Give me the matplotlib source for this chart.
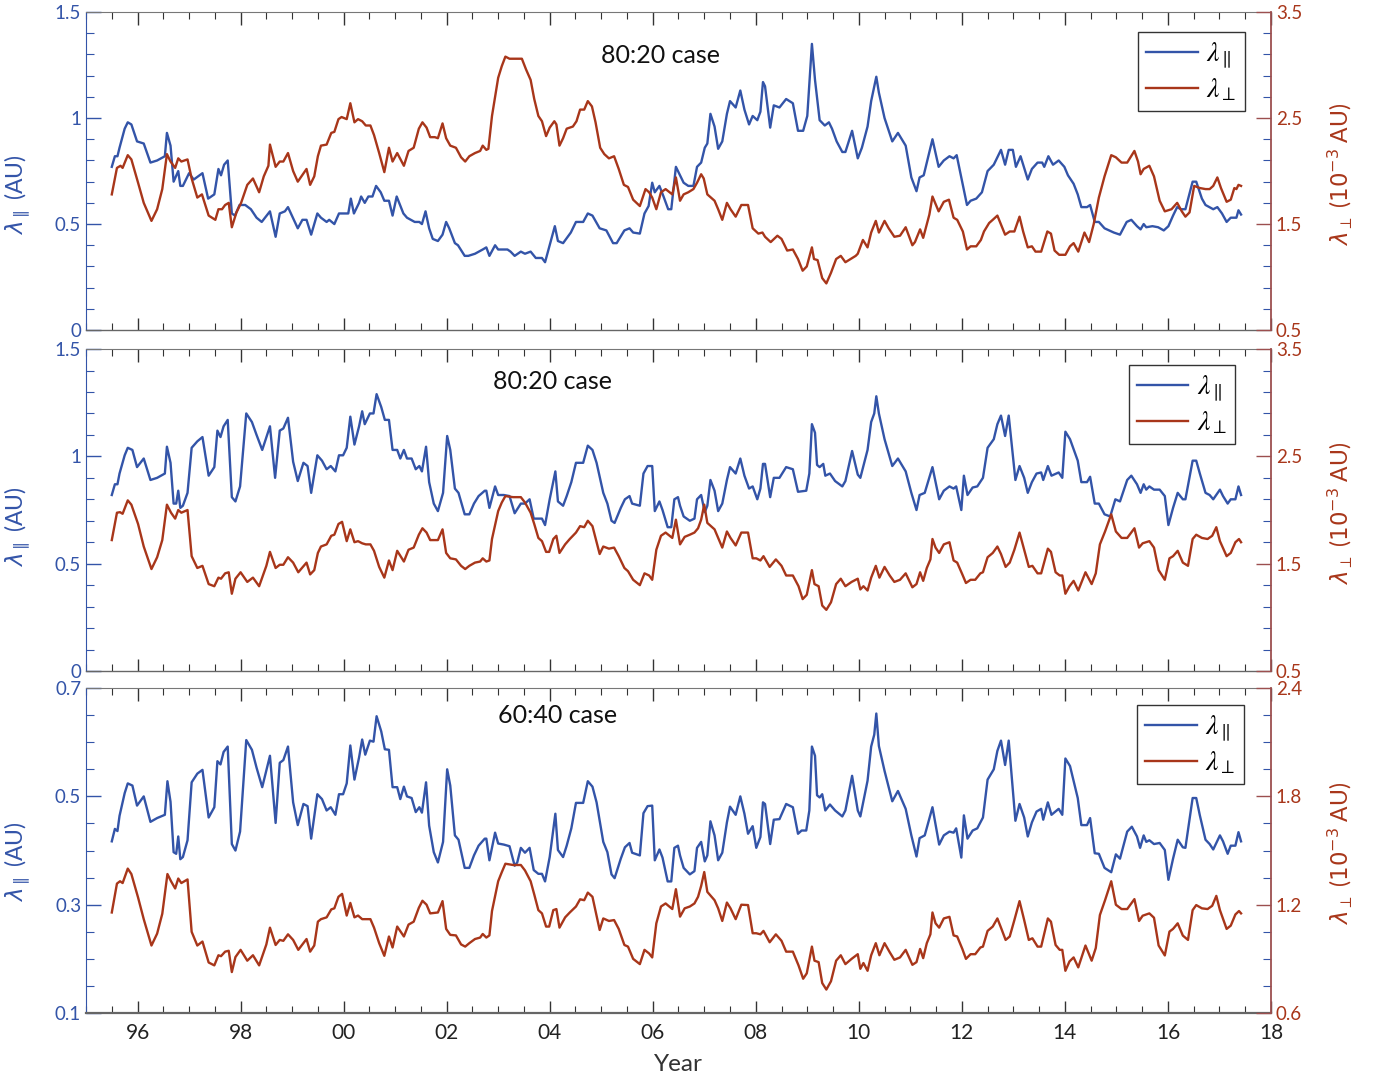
import numpy as np
import matplotlib.pyplot as plt
from matplotlib.ticker import FixedLocator
from matplotlib.font_manager import FontProperties

plt.rcParams['font.family'] = ['Lato', 'DejaVu Sans']

BLUE = '#3354a8'
RED = '#a8361a'
RED_SPINE = '#9c4f4f'
GREY = '#333333'

# (year, lambda_par [AU]) and (year, lambda_perp [1e-3 AU]) for each case
P1_PAR = [
    (1995.50, 0.77), (1995.56, 0.82), (1995.61, 0.82), (1995.65, 0.86), (1995.75, 0.95), (1995.81, 0.98),
    (1995.88, 0.97), (1995.99, 0.89), (1996.12, 0.88), (1996.25, 0.79), (1996.38, 0.80), (1996.53, 0.82),
    (1996.57, 0.93), (1996.64, 0.87), (1996.70, 0.70), (1996.79, 0.75), (1996.83, 0.68), (1996.88, 0.68),
    (1997.00, 0.74), (1997.09, 0.71), (1997.26, 0.74), (1997.37, 0.62), (1997.49, 0.64), (1997.57, 0.76),
    (1997.62, 0.73), (1997.68, 0.78), (1997.75, 0.80), (1997.83, 0.55), (1997.89, 0.54), (1997.98, 0.59),
    (1998.09, 0.59), (1998.20, 0.57), (1998.31, 0.53), (1998.41, 0.51), (1998.57, 0.56), (1998.68, 0.44),
    (1998.76, 0.55), (1998.86, 0.56), (1998.92, 0.58), (1999.11, 0.48), (1999.20, 0.52), (1999.28, 0.52),
    (1999.37, 0.45), (1999.49, 0.55), (1999.56, 0.53), (1999.67, 0.51), (1999.72, 0.52), (1999.82, 0.50),
    (1999.91, 0.55), (2000.02, 0.55), (2000.09, 0.55), (2000.14, 0.62), (2000.20, 0.55), (2000.30, 0.60),
    (2000.34, 0.63), (2000.41, 0.60), (2000.48, 0.63), (2000.56, 0.63), (2000.63, 0.68), (2000.72, 0.65),
    (2000.79, 0.61), (2000.88, 0.61), (2000.95, 0.54), (2001.03, 0.63), (2001.16, 0.55), (2001.23, 0.53),
    (2001.38, 0.51), (2001.47, 0.51), (2001.52, 0.50), (2001.59, 0.56), (2001.66, 0.48), (2001.73, 0.43),
    (2001.83, 0.42), (2001.92, 0.45), (2001.99, 0.51), (2002.05, 0.48), (2002.16, 0.41), (2002.22, 0.40),
    (2002.35, 0.35), (2002.42, 0.35), (2002.55, 0.36), (2002.70, 0.38), (2002.77, 0.39), (2002.83, 0.35),
    (2002.94, 0.40), (2003.00, 0.38), (2003.18, 0.38), (2003.24, 0.37), (2003.32, 0.35), (2003.44, 0.37),
    (2003.52, 0.36), (2003.63, 0.37), (2003.73, 0.34), (2003.85, 0.34), (2003.91, 0.32), (2004.01, 0.41),
    (2004.10, 0.49), (2004.16, 0.42), (2004.26, 0.41), (2004.41, 0.46), (2004.51, 0.51), (2004.65, 0.51),
    (2004.74, 0.55), (2004.83, 0.54), (2004.97, 0.48), (2005.10, 0.47), (2005.23, 0.41), (2005.30, 0.41),
    (2005.45, 0.47), (2005.55, 0.48), (2005.62, 0.46), (2005.75, 0.455), (2005.84, 0.55), (2005.92, 0.585),
    (2005.99, 0.695), (2006.04, 0.65), (2006.13, 0.68), (2006.21, 0.63), (2006.30, 0.57), (2006.36, 0.57),
    (2006.45, 0.77), (2006.53, 0.73), (2006.60, 0.695), (2006.69, 0.68), (2006.79, 0.68), (2006.86, 0.77),
    (2006.94, 0.79), (2007.01, 0.86), (2007.06, 0.88), (2007.12, 1.02), (2007.20, 0.96), (2007.27, 0.855),
    (2007.35, 0.89), (2007.44, 1.02), (2007.50, 1.08), (2007.61, 1.05), (2007.70, 1.13), (2007.78, 1.04),
    (2007.87, 0.97), (2007.94, 1.01), (2008.03, 0.99), (2008.09, 1.03), (2008.14, 1.17), (2008.18, 1.15),
    (2008.28, 0.955), (2008.35, 1.06), (2008.46, 1.05), (2008.59, 1.09), (2008.72, 1.07), (2008.82, 0.94),
    (2008.92, 0.94), (2009.00, 1.01), (2009.09, 1.35), (2009.15, 1.18), (2009.24, 0.99), (2009.34, 0.965),
    (2009.42, 0.98), (2009.48, 0.95), (2009.57, 0.89), (2009.68, 0.84), (2009.74, 0.84), (2009.87, 0.94),
    (2009.98, 0.81), (2010.06, 0.86), (2010.17, 0.96), (2010.24, 1.08), (2010.34, 1.195), (2010.39, 1.12),
    (2010.50, 1.00), (2010.65, 0.89), (2010.76, 0.93), (2010.91, 0.87), (2011.02, 0.72), (2011.12, 0.655),
    (2011.18, 0.72), (2011.26, 0.73), (2011.43, 0.90), (2011.55, 0.77), (2011.65, 0.80), (2011.76, 0.82),
    (2011.84, 0.81), (2011.90, 0.825), (2011.99, 0.72), (2012.10, 0.59), (2012.17, 0.61), (2012.28, 0.62),
    (2012.39, 0.65), (2012.50, 0.75), (2012.62, 0.78), (2012.76, 0.85), (2012.84, 0.78), (2012.91, 0.85),
    (2012.99, 0.85), (2013.05, 0.77), (2013.14, 0.82), (2013.28, 0.71), (2013.36, 0.76), (2013.47, 0.79),
    (2013.56, 0.79), (2013.60, 0.77), (2013.68, 0.82), (2013.77, 0.78), (2013.88, 0.80), (2013.99, 0.77),
    (2014.06, 0.73), (2014.17, 0.69), (2014.25, 0.64), (2014.32, 0.58), (2014.43, 0.58), (2014.49, 0.59),
    (2014.58, 0.51), (2014.66, 0.51), (2014.77, 0.48), (2014.95, 0.46), (2015.07, 0.45), (2015.20, 0.51),
    (2015.29, 0.52), (2015.40, 0.49), (2015.47, 0.475), (2015.53, 0.50), (2015.58, 0.485), (2015.70, 0.49),
    (2015.81, 0.485), (2015.92, 0.47), (2016.01, 0.49), (2016.10, 0.54), (2016.18, 0.58), (2016.25, 0.57),
    (2016.34, 0.57), (2016.48, 0.70), (2016.55, 0.70), (2016.66, 0.62), (2016.73, 0.59), (2016.88, 0.57),
    (2016.96, 0.58), (2017.05, 0.55), (2017.14, 0.51), (2017.22, 0.53), (2017.33, 0.53), (2017.37, 0.565),
    (2017.42, 0.545),
]

P1_PERP = [
    (1995.50, 1.78), (1995.60, 2.03), (1995.67, 2.05), (1995.71, 2.03), (1995.81, 2.15), (1995.88, 2.11),
    (1996.01, 1.89), (1996.12, 1.70), (1996.27, 1.53), (1996.38, 1.64), (1996.48, 1.83), (1996.57, 2.16),
    (1996.64, 2.09), (1996.73, 2.03), (1996.79, 2.12), (1996.85, 2.09), (1996.97, 2.11), (1997.05, 1.93),
    (1997.16, 1.75), (1997.25, 1.78), (1997.38, 1.58), (1997.51, 1.54), (1997.57, 1.64), (1997.64, 1.64),
    (1997.70, 1.68), (1997.77, 1.70), (1997.83, 1.47), (1997.92, 1.61), (1998.01, 1.70), (1998.13, 1.87),
    (1998.24, 1.93), (1998.36, 1.80), (1998.45, 1.95), (1998.54, 2.05), (1998.57, 2.25), (1998.68, 2.04),
    (1998.76, 2.09), (1998.83, 2.09), (1998.92, 2.17), (1999.02, 2.00), (1999.11, 1.90), (1999.28, 2.02),
    (1999.35, 1.87), (1999.43, 1.95), (1999.50, 2.14), (1999.56, 2.24), (1999.67, 2.25), (1999.76, 2.36),
    (1999.82, 2.37), (1999.90, 2.49), (1999.96, 2.51), (2000.06, 2.49), (2000.13, 2.64), (2000.21, 2.46),
    (2000.28, 2.49), (2000.36, 2.47), (2000.43, 2.43), (2000.52, 2.43), (2000.59, 2.34), (2000.69, 2.17),
    (2000.79, 1.99), (2000.88, 2.22), (2000.95, 2.09), (2001.04, 2.17), (2001.17, 2.05), (2001.26, 2.19),
    (2001.36, 2.22), (2001.46, 2.40), (2001.53, 2.46), (2001.61, 2.41), (2001.68, 2.32), (2001.77, 2.32),
    (2001.83, 2.31), (2001.92, 2.45), (2001.99, 2.31), (2002.07, 2.24), (2002.18, 2.22), (2002.28, 2.13),
    (2002.36, 2.09), (2002.44, 2.14), (2002.55, 2.17), (2002.65, 2.19), (2002.70, 2.24), (2002.77, 2.20),
    (2002.81, 2.21), (2002.88, 2.52), (2003.00, 2.88), (2003.07, 2.99), (2003.14, 3.08), (2003.22, 3.06),
    (2003.33, 3.06), (2003.46, 3.06), (2003.54, 2.96), (2003.63, 2.86), (2003.70, 2.68), (2003.78, 2.52),
    (2003.85, 2.47), (2003.93, 2.33), (2004.00, 2.41), (2004.09, 2.47), (2004.13, 2.44), (2004.19, 2.24),
    (2004.26, 2.31), (2004.33, 2.40), (2004.45, 2.42), (2004.52, 2.47), (2004.59, 2.58), (2004.67, 2.58),
    (2004.74, 2.66), (2004.82, 2.61), (2004.89, 2.46), (2004.98, 2.22), (2005.06, 2.16), (2005.15, 2.12),
    (2005.25, 2.14), (2005.34, 2.02), (2005.44, 1.87), (2005.52, 1.85), (2005.62, 1.73), (2005.75, 1.67),
    (2005.86, 1.83), (2005.93, 1.80), (2005.99, 1.75), (2006.07, 1.64), (2006.16, 1.80), (2006.25, 1.83),
    (2006.38, 1.78), (2006.45, 1.94), (2006.53, 1.72), (2006.60, 1.78), (2006.69, 1.80), (2006.79, 1.83),
    (2006.86, 1.89), (2006.94, 1.97), (2006.99, 1.93), (2007.06, 1.78), (2007.20, 1.72), (2007.27, 1.64),
    (2007.35, 1.54), (2007.44, 1.70), (2007.51, 1.64), (2007.61, 1.57), (2007.72, 1.68), (2007.85, 1.68),
    (2007.94, 1.46), (2008.05, 1.41), (2008.13, 1.42), (2008.18, 1.38), (2008.29, 1.33), (2008.42, 1.39),
    (2008.50, 1.36), (2008.61, 1.25), (2008.72, 1.26), (2008.82, 1.17), (2008.91, 1.06), (2008.99, 1.10),
    (2009.09, 1.28), (2009.13, 1.17), (2009.20, 1.16), (2009.29, 0.99), (2009.37, 0.94), (2009.46, 1.04),
    (2009.56, 1.17), (2009.65, 1.20), (2009.74, 1.14), (2009.94, 1.20), (2009.98, 1.22), (2010.08, 1.35),
    (2010.17, 1.28), (2010.24, 1.42), (2010.33, 1.53), (2010.39, 1.42), (2010.50, 1.53), (2010.58, 1.46),
    (2010.69, 1.38), (2010.80, 1.39), (2010.91, 1.47), (2011.04, 1.30), (2011.09, 1.33), (2011.19, 1.45),
    (2011.25, 1.37), (2011.37, 1.59), (2011.43, 1.76), (2011.55, 1.62), (2011.65, 1.71), (2011.75, 1.73),
    (2011.84, 1.56), (2011.91, 1.54), (2012.02, 1.43), (2012.10, 1.26), (2012.17, 1.29), (2012.28, 1.29),
    (2012.37, 1.35), (2012.43, 1.43), (2012.53, 1.51), (2012.60, 1.54), (2012.69, 1.58), (2012.84, 1.40),
    (2012.93, 1.43), (2013.02, 1.43), (2013.12, 1.57), (2013.19, 1.43), (2013.28, 1.28), (2013.36, 1.29),
    (2013.43, 1.24), (2013.54, 1.24), (2013.66, 1.43), (2013.73, 1.41), (2013.80, 1.25), (2013.89, 1.21),
    (2014.01, 1.21), (2014.10, 1.29), (2014.17, 1.32), (2014.26, 1.24), (2014.38, 1.42), (2014.47, 1.33),
    (2014.56, 1.50), (2014.66, 1.75), (2014.77, 1.95), (2014.90, 2.15), (2014.99, 2.13), (2015.10, 2.08),
    (2015.21, 2.08), (2015.35, 2.19), (2015.42, 2.09), (2015.47, 1.97), (2015.53, 2.02), (2015.64, 2.05),
    (2015.73, 1.95), (2015.84, 1.72), (2015.94, 1.62), (2016.07, 1.64), (2016.18, 1.70), (2016.27, 1.62),
    (2016.34, 1.57), (2016.42, 1.61), (2016.51, 1.86), (2016.62, 1.84), (2016.73, 1.83), (2016.81, 1.83),
    (2016.88, 1.86), (2016.96, 1.94), (2017.03, 1.84), (2017.14, 1.71), (2017.22, 1.73), (2017.29, 1.84),
    (2017.33, 1.83), (2017.37, 1.87), (2017.42, 1.86),
]

P2_PAR = [
    (1995.50, 0.82), (1995.56, 0.87), (1995.61, 0.87), (1995.65, 0.92), (1995.75, 1.005), (1995.81, 1.04),
    (1995.90, 1.03), (1995.99, 0.95), (1996.12, 0.99), (1996.25, 0.89), (1996.38, 0.90), (1996.53, 0.92),
    (1996.57, 1.045), (1996.64, 0.97), (1996.70, 0.78), (1996.75, 0.78), (1996.79, 0.84), (1996.83, 0.76),
    (1996.88, 0.77), (1996.97, 0.83), (1997.05, 1.04), (1997.16, 1.07), (1997.26, 1.09), (1997.38, 0.91),
    (1997.49, 0.95), (1997.55, 1.12), (1997.61, 1.09), (1997.67, 1.14), (1997.75, 1.17), (1997.83, 0.81),
    (1997.90, 0.79), (1997.99, 0.86), (1998.11, 1.20), (1998.22, 1.16), (1998.31, 1.10), (1998.42, 1.03),
    (1998.57, 1.14), (1998.67, 0.90), (1998.76, 1.12), (1998.83, 1.13), (1998.92, 1.18), (1999.02, 0.975),
    (1999.11, 0.885), (1999.22, 0.97), (1999.30, 0.955), (1999.37, 0.83), (1999.49, 1.005), (1999.58, 0.98),
    (1999.67, 0.94), (1999.75, 0.955), (1999.84, 0.93), (1999.91, 1.005), (1999.99, 1.005), (2000.06, 1.04),
    (2000.13, 1.185), (2000.21, 1.055), (2000.30, 1.14), (2000.36, 1.21), (2000.41, 1.15), (2000.51, 1.20),
    (2000.58, 1.20), (2000.64, 1.29), (2000.73, 1.23), (2000.80, 1.17), (2000.88, 1.17), (2000.95, 1.03),
    (2001.04, 1.03), (2001.10, 0.99), (2001.17, 1.03), (2001.23, 0.99), (2001.32, 0.99), (2001.40, 0.94),
    (2001.47, 0.955), (2001.52, 0.93), (2001.60, 1.045), (2001.66, 0.88), (2001.75, 0.78), (2001.83, 0.745),
    (2001.93, 0.83), (2002.01, 1.095), (2002.07, 1.03), (2002.16, 0.85), (2002.23, 0.83), (2002.35, 0.73),
    (2002.44, 0.73), (2002.53, 0.78), (2002.62, 0.815), (2002.74, 0.84), (2002.77, 0.84), (2002.83, 0.76),
    (2002.94, 0.86), (2003.00, 0.82), (2003.11, 0.82), (2003.22, 0.815), (2003.32, 0.735), (2003.44, 0.78),
    (2003.52, 0.78), (2003.61, 0.80), (2003.69, 0.71), (2003.78, 0.71), (2003.85, 0.71), (2003.91, 0.68),
    (2004.00, 0.80), (2004.11, 0.93), (2004.16, 0.79), (2004.26, 0.77), (2004.33, 0.815), (2004.42, 0.88),
    (2004.51, 0.97), (2004.65, 0.97), (2004.74, 1.05), (2004.83, 1.03), (2004.91, 0.97), (2005.04, 0.83),
    (2005.12, 0.78), (2005.20, 0.70), (2005.26, 0.69), (2005.38, 0.76), (2005.46, 0.80), (2005.55, 0.815),
    (2005.60, 0.78), (2005.75, 0.77), (2005.82, 0.92), (2005.90, 0.955), (2005.99, 0.955), (2006.04, 0.745),
    (2006.13, 0.79), (2006.19, 0.75), (2006.29, 0.67), (2006.36, 0.67), (2006.42, 0.80), (2006.49, 0.81),
    (2006.53, 0.77), (2006.60, 0.72), (2006.72, 0.70), (2006.81, 0.71), (2006.86, 0.80), (2006.94, 0.82),
    (2007.01, 0.74), (2007.06, 0.77), (2007.12, 0.89), (2007.20, 0.84), (2007.27, 0.745), (2007.35, 0.78),
    (2007.44, 0.89), (2007.50, 0.95), (2007.61, 0.92), (2007.70, 0.99), (2007.78, 0.91), (2007.87, 0.85),
    (2007.94, 0.86), (2008.03, 0.80), (2008.09, 0.85), (2008.14, 0.965), (2008.18, 0.965), (2008.28, 0.81),
    (2008.35, 0.90), (2008.46, 0.90), (2008.59, 0.95), (2008.72, 0.94), (2008.82, 0.835), (2008.98, 0.84),
    (2009.04, 0.92), (2009.09, 1.15), (2009.15, 1.11), (2009.19, 0.96), (2009.24, 0.95), (2009.31, 0.965),
    (2009.35, 0.91), (2009.44, 0.92), (2009.54, 0.885), (2009.68, 0.86), (2009.74, 0.885), (2009.87, 1.025),
    (2009.98, 0.915), (2010.03, 0.90), (2010.17, 1.03), (2010.24, 1.16), (2010.30, 1.20), (2010.34, 1.28),
    (2010.39, 1.20), (2010.50, 1.08), (2010.65, 0.955), (2010.76, 0.99), (2010.91, 0.93), (2011.02, 0.83),
    (2011.12, 0.75), (2011.18, 0.82), (2011.28, 0.83), (2011.43, 0.95), (2011.56, 0.80), (2011.65, 0.84),
    (2011.76, 0.86), (2011.84, 0.85), (2011.89, 0.86), (2011.99, 0.75), (2012.04, 0.91), (2012.11, 0.82),
    (2012.21, 0.855), (2012.30, 0.86), (2012.41, 0.90), (2012.50, 1.04), (2012.62, 1.08), (2012.69, 1.15),
    (2012.76, 1.19), (2012.84, 1.095), (2012.91, 1.19), (2013.04, 0.89), (2013.12, 0.955), (2013.21, 0.90),
    (2013.28, 0.83), (2013.36, 0.88), (2013.45, 0.92), (2013.54, 0.925), (2013.58, 0.89), (2013.67, 0.955),
    (2013.74, 0.91), (2013.88, 0.925), (2013.95, 0.90), (2014.01, 1.115), (2014.10, 1.08), (2014.25, 0.98),
    (2014.32, 0.88), (2014.43, 0.88), (2014.49, 0.905), (2014.58, 0.78), (2014.66, 0.78), (2014.77, 0.73),
    (2014.88, 0.72), (2014.98, 0.80), (2015.07, 0.79), (2015.21, 0.89), (2015.29, 0.91), (2015.40, 0.87),
    (2015.47, 0.83), (2015.53, 0.87), (2015.58, 0.845), (2015.64, 0.86), (2015.73, 0.845), (2015.84, 0.845),
    (2015.94, 0.815), (2016.01, 0.68), (2016.10, 0.76), (2016.19, 0.83), (2016.29, 0.80), (2016.34, 0.80),
    (2016.48, 0.98), (2016.55, 0.98), (2016.62, 0.92), (2016.73, 0.83), (2016.81, 0.82), (2016.88, 0.80),
    (2017.01, 0.845), (2017.07, 0.815), (2017.16, 0.78), (2017.22, 0.80), (2017.31, 0.80), (2017.37, 0.86),
    (2017.42, 0.82),
]

P2_PERP = [
    (1995.50, 1.72), (1995.60, 1.975), (1995.66, 1.98), (1995.71, 1.965), (1995.81, 2.09), (1995.88, 2.05),
    (1996.01, 1.87), (1996.12, 1.66), (1996.27, 1.45), (1996.38, 1.56), (1996.48, 1.72), (1996.57, 2.05),
    (1996.65, 1.975), (1996.73, 1.92), (1996.79, 2.00), (1996.85, 1.975), (1996.97, 2.00), (1997.05, 1.57),
    (1997.16, 1.46), (1997.26, 1.48), (1997.38, 1.31), (1997.49, 1.29), (1997.57, 1.37), (1997.62, 1.36),
    (1997.70, 1.41), (1997.77, 1.42), (1997.83, 1.22), (1997.90, 1.36), (1998.00, 1.42), (1998.13, 1.33),
    (1998.24, 1.37), (1998.36, 1.29), (1998.50, 1.48), (1998.57, 1.61), (1998.68, 1.46), (1998.76, 1.49),
    (1998.83, 1.49), (1998.92, 1.56), (1999.02, 1.51), (1999.12, 1.42), (1999.28, 1.51), (1999.35, 1.40),
    (1999.43, 1.44), (1999.50, 1.60), (1999.56, 1.66), (1999.67, 1.68), (1999.76, 1.76), (1999.82, 1.77),
    (1999.90, 1.87), (1999.97, 1.89), (2000.06, 1.71), (2000.13, 1.82), (2000.21, 1.70), (2000.28, 1.71),
    (2000.36, 1.69), (2000.43, 1.68), (2000.52, 1.68), (2000.59, 1.62), (2000.69, 1.47), (2000.79, 1.37),
    (2000.88, 1.53), (2000.95, 1.44), (2001.04, 1.62), (2001.17, 1.52), (2001.26, 1.63), (2001.36, 1.65),
    (2001.46, 1.77), (2001.53, 1.83), (2001.61, 1.79), (2001.68, 1.72), (2001.83, 1.72), (2001.92, 1.82),
    (2001.99, 1.60), (2002.07, 1.55), (2002.18, 1.54), (2002.28, 1.48), (2002.36, 1.45), (2002.44, 1.48),
    (2002.55, 1.51), (2002.65, 1.52), (2002.70, 1.55), (2002.77, 1.52), (2002.83, 1.53), (2002.88, 1.73),
    (2003.00, 1.99), (2003.07, 2.07), (2003.14, 2.13), (2003.29, 2.12), (2003.44, 2.12), (2003.52, 2.07),
    (2003.63, 1.975), (2003.70, 1.87), (2003.78, 1.74), (2003.85, 1.71), (2003.93, 1.61), (2003.99, 1.61),
    (2004.07, 1.73), (2004.13, 1.76), (2004.19, 1.60), (2004.30, 1.68), (2004.39, 1.73), (2004.51, 1.79),
    (2004.59, 1.85), (2004.67, 1.84), (2004.74, 1.90), (2004.83, 1.85), (2004.97, 1.59), (2005.04, 1.66),
    (2005.15, 1.64), (2005.25, 1.65), (2005.34, 1.57), (2005.45, 1.46), (2005.52, 1.43), (2005.62, 1.35),
    (2005.75, 1.30), (2005.84, 1.41), (2005.93, 1.39), (2005.99, 1.35), (2006.07, 1.63), (2006.16, 1.76),
    (2006.25, 1.79), (2006.38, 1.74), (2006.45, 1.91), (2006.53, 1.68), (2006.62, 1.75), (2006.72, 1.77),
    (2006.81, 1.79), (2006.88, 1.83), (2006.94, 1.91), (2007.00, 2.05), (2007.06, 1.88), (2007.20, 1.82),
    (2007.27, 1.74), (2007.35, 1.65), (2007.44, 1.80), (2007.51, 1.74), (2007.61, 1.67), (2007.72, 1.79),
    (2007.85, 1.79), (2007.94, 1.55), (2008.01, 1.55), (2008.09, 1.53), (2008.15, 1.57), (2008.27, 1.47),
    (2008.39, 1.54), (2008.50, 1.48), (2008.59, 1.39), (2008.72, 1.39), (2008.83, 1.29), (2008.91, 1.17),
    (2008.99, 1.21), (2009.09, 1.44), (2009.14, 1.31), (2009.22, 1.29), (2009.29, 1.11), (2009.37, 1.07),
    (2009.46, 1.14), (2009.56, 1.31), (2009.65, 1.36), (2009.74, 1.29), (2009.86, 1.33), (2009.98, 1.36),
    (2010.03, 1.26), (2010.09, 1.29), (2010.17, 1.25), (2010.24, 1.37), (2010.33, 1.48), (2010.40, 1.37),
    (2010.50, 1.47), (2010.60, 1.39), (2010.69, 1.33), (2010.80, 1.35), (2010.91, 1.41), (2011.04, 1.28),
    (2011.12, 1.31), (2011.19, 1.42), (2011.25, 1.34), (2011.32, 1.46), (2011.39, 1.54), (2011.43, 1.73),
    (2011.49, 1.65), (2011.56, 1.60), (2011.65, 1.68), (2011.76, 1.70), (2011.84, 1.53), (2011.91, 1.51),
    (2012.01, 1.40), (2012.08, 1.32), (2012.17, 1.35), (2012.26, 1.35), (2012.36, 1.41), (2012.41, 1.42),
    (2012.50, 1.56), (2012.60, 1.60), (2012.69, 1.66), (2012.76, 1.59), (2012.85, 1.47), (2012.93, 1.51),
    (2013.02, 1.63), (2013.12, 1.79), (2013.21, 1.63), (2013.30, 1.47), (2013.37, 1.48), (2013.47, 1.41),
    (2013.54, 1.41), (2013.67, 1.64), (2013.73, 1.61), (2013.82, 1.42), (2013.90, 1.39), (2013.95, 1.39),
    (2014.01, 1.22), (2014.09, 1.29), (2014.17, 1.34), (2014.26, 1.25), (2014.40, 1.42), (2014.52, 1.31),
    (2014.60, 1.41), (2014.68, 1.68), (2014.78, 1.80), (2014.90, 1.96), (2014.99, 1.80), (2015.10, 1.74),
    (2015.21, 1.74), (2015.35, 1.83), (2015.44, 1.65), (2015.51, 1.69), (2015.64, 1.71), (2015.73, 1.65),
    (2015.82, 1.44), (2015.94, 1.35), (2016.03, 1.55), (2016.10, 1.57), (2016.19, 1.62), (2016.29, 1.51),
    (2016.39, 1.48), (2016.48, 1.73), (2016.55, 1.77), (2016.66, 1.74), (2016.77, 1.73), (2016.86, 1.76),
    (2016.94, 1.84), (2017.01, 1.71), (2017.14, 1.57), (2017.22, 1.60), (2017.31, 1.70), (2017.38, 1.73),
    (2017.42, 1.70),
]

P3_PAR = [
    (1995.50, 0.417), (1995.56, 0.44), (1995.61, 0.436), (1995.65, 0.464), (1995.75, 0.506), (1995.81, 0.524),
    (1995.90, 0.52), (1995.99, 0.483), (1996.12, 0.50), (1996.25, 0.453), (1996.38, 0.46), (1996.53, 0.466),
    (1996.58, 0.528), (1996.64, 0.49), (1996.70, 0.397), (1996.75, 0.394), (1996.79, 0.426), (1996.83, 0.384),
    (1996.88, 0.388), (1996.97, 0.419), (1997.05, 0.526), (1997.16, 0.542), (1997.26, 0.549), (1997.38, 0.461),
    (1997.49, 0.48), (1997.55, 0.565), (1997.61, 0.559), (1997.67, 0.582), (1997.75, 0.592), (1997.83, 0.412),
    (1997.90, 0.40), (1997.99, 0.435), (1998.11, 0.604), (1998.22, 0.586), (1998.31, 0.553), (1998.42, 0.517),
    (1998.57, 0.575), (1998.68, 0.451), (1998.76, 0.562), (1998.83, 0.567), (1998.92, 0.592), (1999.02, 0.489),
    (1999.11, 0.447), (1999.22, 0.486), (1999.30, 0.482), (1999.37, 0.422), (1999.49, 0.504), (1999.58, 0.495),
    (1999.67, 0.474), (1999.75, 0.48), (1999.84, 0.466), (1999.91, 0.504), (1999.99, 0.504), (2000.06, 0.524),
    (2000.13, 0.594), (2000.21, 0.531), (2000.30, 0.572), (2000.36, 0.605), (2000.42, 0.577), (2000.51, 0.603),
    (2000.58, 0.601), (2000.64, 0.648), (2000.73, 0.62), (2000.80, 0.587), (2000.88, 0.586), (2000.95, 0.517),
    (2001.04, 0.517), (2001.10, 0.495), (2001.17, 0.518), (2001.23, 0.50), (2001.32, 0.497), (2001.40, 0.471),
    (2001.47, 0.48), (2001.52, 0.47), (2001.60, 0.526), (2001.66, 0.446), (2001.75, 0.397), (2001.83, 0.378),
    (2001.93, 0.416), (2002.01, 0.55), (2002.07, 0.52), (2002.16, 0.428), (2002.23, 0.42), (2002.35, 0.368),
    (2002.44, 0.368), (2002.53, 0.391), (2002.62, 0.409), (2002.74, 0.422), (2002.77, 0.422), (2002.83, 0.382),
    (2002.94, 0.433), (2003.00, 0.413), (2003.11, 0.411), (2003.22, 0.408), (2003.32, 0.372), (2003.37, 0.378),
    (2003.44, 0.405), (2003.52, 0.396), (2003.61, 0.405), (2003.69, 0.364), (2003.78, 0.357), (2003.85, 0.357),
    (2003.91, 0.343), (2004.00, 0.388), (2004.11, 0.468), (2004.16, 0.401), (2004.26, 0.388), (2004.33, 0.409),
    (2004.42, 0.441), (2004.51, 0.488), (2004.65, 0.488), (2004.74, 0.528), (2004.83, 0.518), (2004.91, 0.489),
    (2005.04, 0.416), (2005.12, 0.397), (2005.20, 0.356), (2005.26, 0.349), (2005.38, 0.385), (2005.46, 0.406),
    (2005.55, 0.414), (2005.60, 0.396), (2005.75, 0.391), (2005.82, 0.469), (2005.90, 0.482), (2005.99, 0.483),
    (2006.04, 0.382), (2006.13, 0.402), (2006.19, 0.387), (2006.29, 0.343), (2006.36, 0.343), (2006.42, 0.405),
    (2006.49, 0.409), (2006.53, 0.391), (2006.60, 0.368), (2006.72, 0.356), (2006.81, 0.362), (2006.86, 0.405),
    (2006.94, 0.416), (2007.01, 0.38), (2007.06, 0.391), (2007.12, 0.454), (2007.20, 0.428), (2007.27, 0.382),
    (2007.35, 0.396), (2007.44, 0.452), (2007.50, 0.481), (2007.61, 0.466), (2007.70, 0.50), (2007.78, 0.468),
    (2007.85, 0.431), (2007.94, 0.445), (2008.01, 0.405), (2008.09, 0.425), (2008.14, 0.489), (2008.18, 0.486),
    (2008.28, 0.412), (2008.35, 0.457), (2008.46, 0.458), (2008.59, 0.486), (2008.72, 0.48), (2008.82, 0.431),
    (2008.89, 0.437), (2008.98, 0.437), (2009.04, 0.474), (2009.09, 0.592), (2009.15, 0.575), (2009.19, 0.502),
    (2009.24, 0.498), (2009.29, 0.504), (2009.35, 0.474), (2009.44, 0.485), (2009.54, 0.474), (2009.68, 0.463),
    (2009.74, 0.474), (2009.87, 0.538), (2009.98, 0.474), (2010.03, 0.463), (2010.17, 0.529), (2010.24, 0.592),
    (2010.30, 0.614), (2010.34, 0.653), (2010.39, 0.593), (2010.50, 0.547), (2010.65, 0.491), (2010.76, 0.51),
    (2010.91, 0.477), (2011.02, 0.428), (2011.12, 0.389), (2011.18, 0.423), (2011.28, 0.428), (2011.43, 0.48),
    (2011.56, 0.411), (2011.65, 0.428), (2011.76, 0.435), (2011.84, 0.433), (2011.89, 0.441), (2011.99, 0.387),
    (2012.04, 0.465), (2012.11, 0.422), (2012.21, 0.437), (2012.30, 0.441), (2012.41, 0.461), (2012.50, 0.531),
    (2012.62, 0.55), (2012.69, 0.584), (2012.76, 0.603), (2012.84, 0.558), (2012.91, 0.603), (2013.04, 0.455),
    (2013.12, 0.486), (2013.21, 0.461), (2013.28, 0.426), (2013.36, 0.452), (2013.45, 0.472), (2013.54, 0.477),
    (2013.58, 0.457), (2013.67, 0.489), (2013.74, 0.466), (2013.88, 0.477), (2013.95, 0.466), (2014.01, 0.57),
    (2014.10, 0.556), (2014.25, 0.497), (2014.32, 0.447), (2014.43, 0.447), (2014.49, 0.46), (2014.58, 0.395),
    (2014.66, 0.394), (2014.77, 0.368), (2014.90, 0.36), (2014.99, 0.393), (2015.07, 0.385), (2015.21, 0.435),
    (2015.30, 0.444), (2015.40, 0.426), (2015.46, 0.405), (2015.53, 0.428), (2015.58, 0.416), (2015.64, 0.419),
    (2015.73, 0.412), (2015.84, 0.414), (2015.94, 0.401), (2016.01, 0.346), (2016.10, 0.385), (2016.19, 0.42),
    (2016.29, 0.406), (2016.34, 0.405), (2016.48, 0.497), (2016.55, 0.497), (2016.62, 0.465), (2016.73, 0.42),
    (2016.81, 0.412), (2016.88, 0.402), (2017.01, 0.428), (2017.07, 0.417), (2017.16, 0.394), (2017.22, 0.409),
    (2017.31, 0.409), (2017.37, 0.434), (2017.42, 0.417),
]

P3_PERP = [
    (1995.50, 1.157), (1995.60, 1.317), (1995.66, 1.33), (1995.71, 1.32), (1995.81, 1.40), (1995.88, 1.37),
    (1996.01, 1.24), (1996.12, 1.12), (1996.27, 0.974), (1996.38, 1.04), (1996.48, 1.15), (1996.58, 1.37),
    (1996.65, 1.33), (1996.73, 1.29), (1996.79, 1.345), (1996.85, 1.32), (1996.97, 1.34), (1997.05, 1.05),
    (1997.16, 0.974), (1997.26, 0.996), (1997.38, 0.88), (1997.49, 0.864), (1997.57, 0.92), (1997.62, 0.915),
    (1997.70, 0.94), (1997.77, 0.945), (1997.83, 0.827), (1997.90, 0.91), (1998.00, 0.95), (1998.13, 0.89),
    (1998.24, 0.92), (1998.36, 0.864), (1998.50, 0.98), (1998.57, 1.073), (1998.68, 0.977), (1998.76, 1.005),
    (1998.83, 1.00), (1998.92, 1.036), (1999.02, 1.005), (1999.12, 0.95), (1999.28, 1.01), (1999.35, 0.94),
    (1999.43, 0.974), (1999.50, 1.106), (1999.56, 1.12), (1999.67, 1.13), (1999.76, 1.174), (1999.82, 1.18),
    (1999.90, 1.244), (1999.97, 1.26), (2000.06, 1.14), (2000.13, 1.21), (2000.21, 1.13), (2000.28, 1.14),
    (2000.36, 1.12), (2000.43, 1.12), (2000.52, 1.12), (2000.59, 1.073), (2000.69, 0.987), (2000.79, 0.917),
    (2000.88, 1.024), (2000.95, 0.963), (2001.04, 1.079), (2001.17, 1.024), (2001.26, 1.09), (2001.36, 1.106),
    (2001.46, 1.183), (2001.53, 1.222), (2001.61, 1.20), (2001.68, 1.152), (2001.83, 1.157), (2001.92, 1.22),
    (2001.99, 1.066), (2002.07, 1.033), (2002.18, 1.03), (2002.28, 0.98), (2002.36, 0.968), (2002.44, 0.987),
    (2002.55, 1.01), (2002.65, 1.018), (2002.70, 1.038), (2002.77, 1.018), (2002.83, 1.03), (2002.88, 1.165),
    (2003.00, 1.33), (2003.07, 1.38), (2003.14, 1.427), (2003.29, 1.42), (2003.44, 1.42), (2003.52, 1.39),
    (2003.63, 1.33), (2003.70, 1.257), (2003.78, 1.17), (2003.85, 1.152), (2003.93, 1.079), (2003.99, 1.079),
    (2004.07, 1.17), (2004.13, 1.176), (2004.19, 1.073), (2004.30, 1.13), (2004.39, 1.157), (2004.51, 1.19),
    (2004.59, 1.23), (2004.67, 1.225), (2004.74, 1.267), (2004.83, 1.244), (2004.97, 1.06), (2005.04, 1.124),
    (2005.15, 1.11), (2005.25, 1.115), (2005.34, 1.066), (2005.45, 0.977), (2005.52, 0.968), (2005.62, 0.90),
    (2005.75, 0.871), (2005.84, 0.95), (2005.93, 0.93), (2005.99, 0.908), (2006.07, 1.097), (2006.16, 1.19),
    (2006.25, 1.207), (2006.38, 1.176), (2006.45, 1.286), (2006.53, 1.134), (2006.62, 1.18), (2006.72, 1.19),
    (2006.81, 1.207), (2006.88, 1.244), (2006.94, 1.304), (2007.00, 1.381), (2007.06, 1.271), (2007.20, 1.225),
    (2007.27, 1.18), (2007.35, 1.11), (2007.44, 1.212), (2007.51, 1.18), (2007.61, 1.12), (2007.72, 1.20),
    (2007.85, 1.198), (2007.94, 1.042), (2008.01, 1.042), (2008.09, 1.036), (2008.15, 1.055), (2008.27, 0.992),
    (2008.39, 1.036), (2008.50, 1.00), (2008.59, 0.94), (2008.72, 0.94), (2008.83, 0.864), (2008.92, 0.79),
    (2008.99, 0.82), (2009.09, 0.968), (2009.14, 0.89), (2009.22, 0.882), (2009.29, 0.766), (2009.37, 0.73),
    (2009.46, 0.776), (2009.56, 0.89), (2009.65, 0.92), (2009.74, 0.871), (2009.86, 0.90), (2009.98, 0.926),
    (2010.03, 0.845), (2010.09, 0.877), (2010.17, 0.834), (2010.24, 0.92), (2010.33, 0.987), (2010.40, 0.92),
    (2010.50, 0.987), (2010.60, 0.937), (2010.69, 0.895), (2010.80, 0.908), (2010.91, 0.95), (2011.04, 0.867),
    (2011.12, 0.882), (2011.19, 0.955), (2011.25, 0.904), (2011.32, 0.987), (2011.39, 1.036), (2011.43, 1.157),
    (2011.49, 1.097), (2011.56, 1.073), (2011.65, 1.124), (2011.76, 1.133), (2011.84, 1.03), (2011.91, 1.024),
    (2012.01, 0.955), (2012.08, 0.90), (2012.17, 0.926), (2012.26, 0.926), (2012.36, 0.963), (2012.41, 0.968),
    (2012.50, 1.055), (2012.60, 1.079), (2012.69, 1.124), (2012.76, 1.073), (2012.85, 1.005), (2012.93, 1.024),
    (2013.02, 1.115), (2013.12, 1.22), (2013.21, 1.115), (2013.30, 1.005), (2013.37, 1.014), (2013.47, 0.968),
    (2013.54, 0.968), (2013.67, 1.124), (2013.73, 1.106), (2013.82, 0.977), (2013.90, 0.95), (2013.95, 0.95),
    (2014.01, 0.834), (2014.09, 0.886), (2014.17, 0.908), (2014.26, 0.853), (2014.40, 0.974), (2014.52, 0.89),
    (2014.60, 0.96), (2014.68, 1.143), (2014.78, 1.225), (2014.90, 1.33), (2014.99, 1.20), (2015.10, 1.176),
    (2015.21, 1.176), (2015.35, 1.231), (2015.44, 1.11), (2015.51, 1.139), (2015.64, 1.152), (2015.73, 1.128),
    (2015.82, 0.974), (2015.94, 0.919), (2016.03, 1.051), (2016.10, 1.066), (2016.19, 1.097), (2016.29, 1.029),
    (2016.39, 1.005), (2016.48, 1.17), (2016.55, 1.198), (2016.66, 1.18), (2016.77, 1.176), (2016.86, 1.194),
    (2016.94, 1.249), (2017.01, 1.17), (2017.14, 1.066), (2017.22, 1.084), (2017.31, 1.146), (2017.38, 1.165),
    (2017.42, 1.152),
]

CASES = ['80:20 case', '80:20 case', '60:40 case']
YEAR_TICKS = list(range(1996, 2019, 2))
YEAR_LABELS = ['%02d' % (y % 100) for y in YEAR_TICKS]
LEFT_TICKS = [[0, 0.5, 1, 1.5], [0, 0.5, 1, 1.5], [0.1, 0.3, 0.5, 0.7]]
LEFT_LABELS = [['0', '0.5', '1', '1.5'], ['0', '0.5', '1', '1.5'], ['0.1', '0.3', '0.5', '0.7']]
RIGHT_TICKS = [[0.5, 1.5, 2.5, 3.5], [0.5, 1.5, 2.5, 3.5], [0.6, 1.2, 1.8, 2.4]]
RIGHT_LABELS = [['0.5', '1.5', '2.5', '3.5'], ['0.5', '1.5', '2.5', '3.5'], ['0.6', '1.2', '1.8', '2.4']]


def draw_panel(box, par, perp, i, n_minor, title_xy, legend_xy, ylab_y, last):
    ax = fig.add_axes(box)
    ax2 = ax.twinx()

    t, v = np.array(par).T
    l1, = ax.plot(t, v, color=BLUE, lw=1.7)
    t, v = np.array(perp).T
    l2, = ax2.plot(t, v, color=RED, lw=1.7)

    ax.set_xlim(1995, 2018)
    ax.set_ylim(LEFT_TICKS[i][0], LEFT_TICKS[i][-1])
    ax2.set_ylim(RIGHT_TICKS[i][0], RIGHT_TICKS[i][-1])

    # x axis: labelled every two years, minor ticks every half year
    ax.set_xticks(YEAR_TICKS)
    ax.set_xticklabels(YEAR_LABELS if last else [])
    ax.xaxis.set_minor_locator(FixedLocator(np.arange(1995, 2018.01, 0.5)))
    ax.tick_params(axis='x', which='both', direction='in', top=True, color=GREY,
                   labelcolor='#222222', labelsize=15, pad=7)
    ax.tick_params(axis='x', which='major', length=9, width=1)
    ax.tick_params(axis='x', which='minor', length=5, width=0.8)

    # left axis (lambda parallel)
    ax.set_yticks(LEFT_TICKS[i])
    ax.set_yticklabels(LEFT_LABELS[i])
    ax.yaxis.set_minor_locator(FixedLocator(np.linspace(LEFT_TICKS[i][0], LEFT_TICKS[i][-1], n_minor + 1)))
    ax.tick_params(axis='y', which='both', direction='in', colors=BLUE, labelsize=13.5)
    ax.tick_params(axis='y', which='major', length=11, width=1)
    ax.tick_params(axis='y', which='minor', length=6, width=0.8)

    # right axis (lambda perpendicular)
    ax2.set_yticks(RIGHT_TICKS[i])
    ax2.set_yticklabels(RIGHT_LABELS[i])
    ax2.yaxis.set_minor_locator(FixedLocator(np.linspace(RIGHT_TICKS[i][0], RIGHT_TICKS[i][-1], n_minor + 1)))
    ax2.tick_params(axis='y', which='major', direction='in', color=RED_SPINE, labelcolor=RED,
                    labelsize=13.5, length=11, width=1)
    ax2.tick_params(axis='y', which='minor', direction='in', color=BLUE, length=6, width=0.8)

    ax.spines['right'].set_visible(False)
    ax.spines['left'].set_color(BLUE)
    ax.spines['top'].set_color('#777777')
    ax.spines['bottom'].set_color('#666666')
    ax.spines['bottom'].set_linewidth(1.6 if last else 1.0)
    for s in ('left', 'top', 'bottom'):
        ax2.spines[s].set_visible(False)
    ax2.spines['right'].set_color(RED_SPINE)
    ax2.spines['right'].set_linewidth(1.3)

    ax.set_ylabel(r'$\lambda_{\parallel}$ (AU)', color=BLUE, fontsize=16.5)
    ax.yaxis.set_label_coords(-0.045, ylab_y)
    ax2.set_ylabel(r'$\lambda_{\perp}$ ($10^{-3}$ AU)', color=RED, fontsize=16.5, rotation=90)
    ax2.yaxis.set_label_coords(1.046, 0.49)

    ax.text(title_xy[0], title_xy[1], CASES[i], transform=ax.transAxes, ha='center', va='center',
            fontsize=18, color='#111111')

    leg = ax2.legend([l1, l2], [r'$\lambda_{\parallel}$', r'$\lambda_{\perp}$'],
                     loc='upper right', bbox_to_anchor=legend_xy, borderaxespad=0,
                     prop=FontProperties(size=20, math_fontfamily='stix'),
                     fancybox=False, framealpha=1, edgecolor='#333333',
                     handlelength=1.85, handletextpad=0.3, borderpad=0.3, labelspacing=0.2)
    leg.get_frame().set_linewidth(1.0)

    if last:
        ax.set_xlabel('Year', fontsize=17.5, color='#333333', labelpad=8)
    return ax


fig = plt.figure(figsize=(13.81, 10.80), dpi=100)

draw_panel([0.0623, 0.6944, 0.858, 0.2944], P1_PAR, P1_PERP, 0, 15,
           (0.485, 0.865), (0.978, 0.937), 0.425, False)
draw_panel([0.0623, 0.3787, 0.858, 0.2981], P2_PAR, P2_PERP, 1, 15,
           (0.394, 0.90), (0.970, 0.950), 0.447, False)
draw_panel([0.0623, 0.0620, 0.858, 0.3009], P3_PAR, P3_PERP, 2, 12,
           (0.398, 0.917), (0.977, 0.948), 0.465, True)

fig.savefig('out.png', dpi=100)
